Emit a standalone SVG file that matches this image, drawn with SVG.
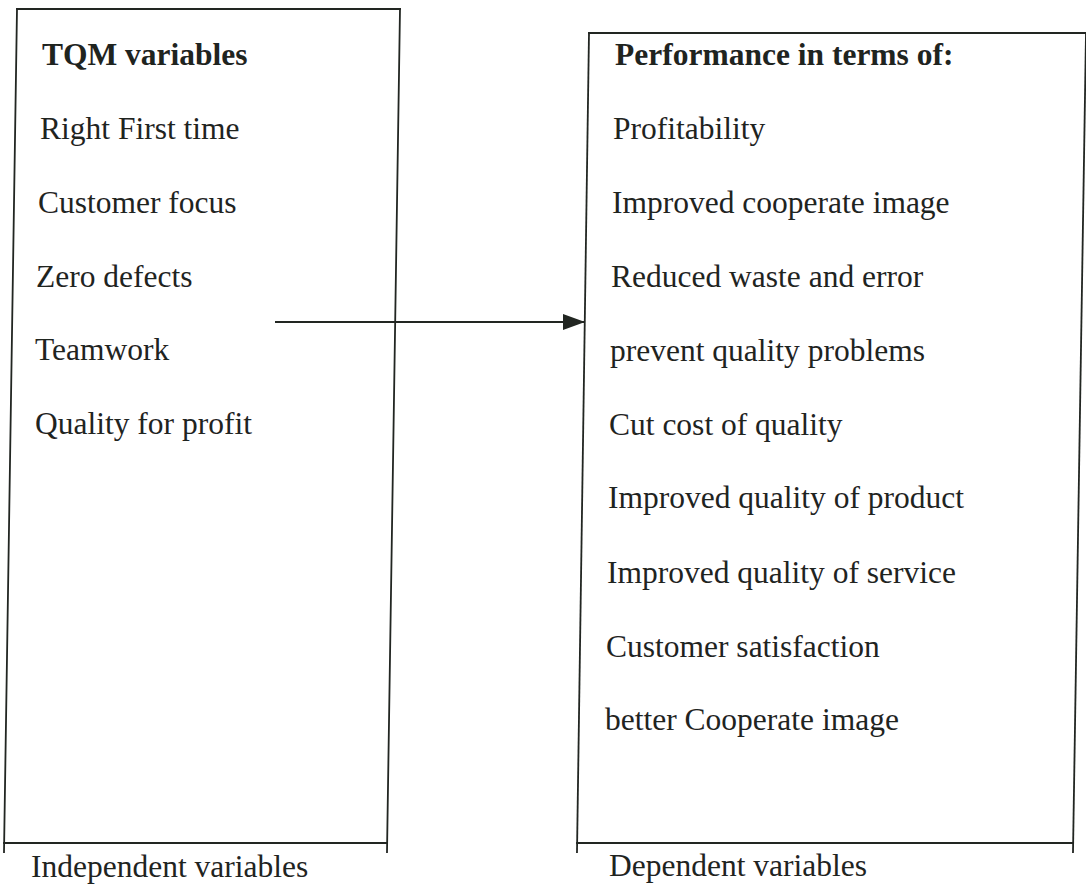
<svg xmlns="http://www.w3.org/2000/svg" width="1086" height="885" viewBox="0 0 1086 885">
  <style>
    .frame { fill: none; stroke: #222622; stroke-width: 1.8; stroke-linecap: square; }
    .item { font-family: "Liberation Serif", "Times New Roman", serif; font-size: 31.5px; fill: #1f241f; }
    .head { font-weight: bold; }
    .link { fill: none; stroke: #222622; stroke-width: 1.8; }
  </style>
  <defs>
    <marker id="arrowhead" viewBox="0 0 22 16" refX="22" refY="8" markerWidth="22" markerHeight="16" markerUnits="userSpaceOnUse" orient="auto">
      <path d="M0,0 L22,8 L0,16 Z" fill="#222622"/>
    </marker>
  </defs>

  <rect x="0" y="0" width="1086" height="885" fill="#ffffff"/>

  <!-- Independent variables box -->
  <g id="tqm-variables">
    <line class="frame" x1="17" y1="9" x2="400" y2="9"/>
    <line class="frame" x1="17" y1="9" x2="4" y2="852"/>
    <line class="frame" x1="400" y1="9" x2="387" y2="852"/>
    <line class="frame" x1="4" y1="843" x2="387" y2="843"/>
    <text class="item head" x="42" y="65">TQM variables</text>
    <text class="item" x="40" y="139">Right First time</text>
    <text class="item" x="38" y="213">Customer focus</text>
    <text class="item" x="36" y="287">Zero defects</text>
    <text class="item" x="35" y="360">Teamwork</text>
    <text class="item" x="35" y="434">Quality for profit</text>
  </g>

  <!-- Dependent variables box -->
  <g id="performance">
    <line class="frame" x1="589" y1="33" x2="1090" y2="33"/>
    <line class="frame" x1="589" y1="33" x2="577" y2="852"/>
    <line class="frame" x1="1086" y1="33" x2="1073" y2="852"/>
    <line class="frame" x1="577" y1="843" x2="1073" y2="843"/>
    <text class="item head" x="615" y="65">Performance in terms of:</text>
    <text class="item" x="613" y="139">Profitability</text>
    <text class="item" x="612" y="213">Improved cooperate image</text>
    <text class="item" x="611" y="287">Reduced waste and error</text>
    <text class="item" x="610" y="361">prevent quality problems</text>
    <text class="item" x="609" y="435">Cut cost of quality</text>
    <text class="item" x="608" y="508">Improved quality of product</text>
    <text class="item" x="607" y="583">Improved quality of service</text>
    <text class="item" x="606" y="657">Customer satisfaction</text>
    <text class="item" x="605" y="730">better Cooperate image</text>
  </g>

  <!-- Captions under the boxes -->
  <g id="captions">
    <text class="item" x="31" y="877">Independent variables</text>
    <text class="item" x="609" y="876">Dependent variables</text>
  </g>

  <!-- Connectors -->
  <g id="connectors">
    <line class="link" x1="275" y1="322" x2="585" y2="322" marker-end="url(#arrowhead)"/>
  </g>
</svg>
